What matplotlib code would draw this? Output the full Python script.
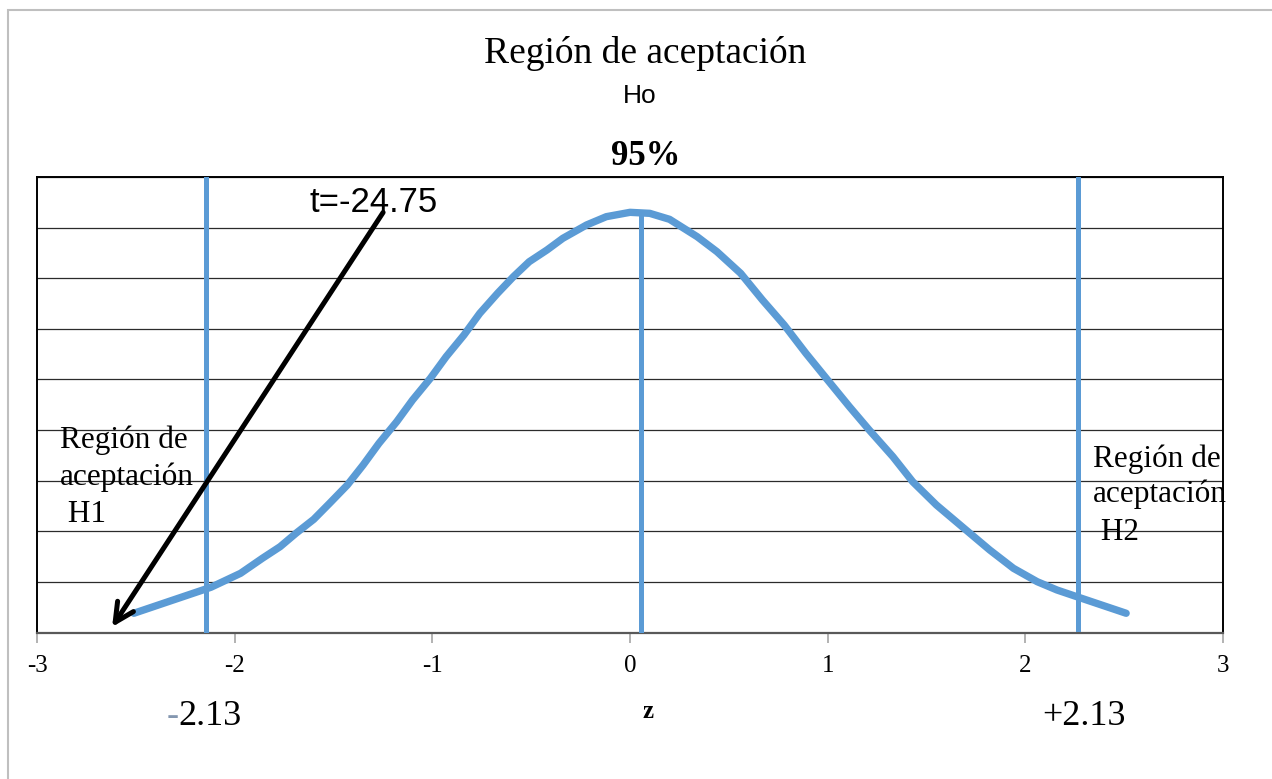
import matplotlib
matplotlib.use('Agg')
import matplotlib.pyplot as plt
from matplotlib.patches import Rectangle

W, H = 1272, 779

# curve (z, height)
z_curve = [-2.51, -2.12, -2.06, -1.97, -1.86, -1.77, -1.69, -1.60, -1.52, -1.43,
           -1.35, -1.27, -1.18, -1.10, -1.01, -0.93, -0.84, -0.76, -0.67, -0.59,
           -0.51, -0.42, -0.34, -0.22, -0.12, 0.0,
           0.10, 0.20, 0.34, 0.44, 0.56, 0.67, 0.78, 0.89, 1.0, 1.11, 1.21, 1.33,
           1.43, 1.55, 1.69, 1.82, 1.94, 2.06, 2.16, 2.26, 2.51]
y_curve = [0.019, 0.0447, 0.0502, 0.0585, 0.0733, 0.0848, 0.098, 0.1118, 0.1276, 0.1457,
           0.1655, 0.1869, 0.2083, 0.2297, 0.2511, 0.2725, 0.2939, 0.3153, 0.3351, 0.3515,
           0.3663, 0.3779, 0.3894, 0.4026, 0.4108, 0.4151,
           0.4141, 0.4082, 0.391, 0.3762, 0.3548, 0.3285, 0.3038, 0.2758, 0.2494, 0.2231,
           0.2001, 0.1737, 0.149, 0.126, 0.1029, 0.0815, 0.0634, 0.0502, 0.042, 0.0354, 0.019]

# vertical lines: (z, bottom, top)
crit_lines = [(-2.144, 0.0, 0.45), (0.058, 0.0, 0.415), (2.266, 0.003, 0.45)]

x_ticks = [-3, -2, -1, 0, 1, 2, 3]
y_grid = [0.05, 0.10, 0.15, 0.20, 0.25, 0.30, 0.35, 0.40, 0.45]

# arrow from label to the t value
arrow_tail = (-1.249, 0.415)
arrow_head = (-2.62, 0.0055)

blue = '#5B9BD5'
serif = 'Liberation Serif'
sans = 'Liberation Sans'


def px(x, y):
    return x / W, 1 - y / H


fig = plt.figure(figsize=(W / 100, H / 100), dpi=100)
fig.patches.append(Rectangle((8 / W, -0.1), 1.2, 1 - 10 / H + 0.1, transform=fig.transFigure,
                             fill=False, edgecolor='#BFBFBF', lw=1.5))

ax = fig.add_axes([37 / W, 1 - 632.5 / H, (1223 - 37) / W, (632.5 - 177) / H])
ax.set_xlim(-3, 3)
ax.set_ylim(0, 0.45)

for g in y_grid:
    ax.axhline(g, color='#2b2b2b', lw=0.9, zorder=1)

ax.plot(z_curve, y_curve, color=blue, lw=5.3, solid_capstyle='round', solid_joinstyle='round', zorder=3)
for zc, y0, y1 in crit_lines:
    ax.plot([zc, zc], [y0, y1], color=blue, lw=3.6, zorder=3)

ax.annotate('', xy=arrow_head, xytext=arrow_tail,
            arrowprops=dict(arrowstyle='->', lw=3.6, color='black', mutation_scale=34,
                            shrinkA=0, shrinkB=0), zorder=4)

ax.set_xticks(x_ticks)
ax.set_xticklabels([str(t) for t in x_ticks], fontfamily=serif, fontsize=18)
ax.tick_params(axis='x', length=7, width=1.2, color='#A6A6A6', direction='out', pad=9)
ax.set_yticks([])
for s in ['left', 'right', 'top']:
    ax.spines[s].set_color('black')
    ax.spines[s].set_linewidth(1.4)
ax.spines['bottom'].set_color('#595959')
ax.spines['bottom'].set_linewidth(1.6)

fig.text(*px(645, 63), 'Región de aceptación', fontfamily=serif, fontsize=27, ha='center', va='baseline')
fig.text(*px(640, 103), 'Ho', fontfamily=sans, fontsize=19, ha='center', va='baseline')
fig.text(*px(646, 165), '95%', fontfamily=serif, fontsize=25, fontweight='bold', ha='center', va='baseline')
fig.text(*px(309, 212), 't=-24.75', fontfamily=sans, fontsize=25, ha='left', va='baseline')

for txt, x, y in [('Región de', 60, 448), ('aceptación', 60, 485), (' H1', 60, 522),
                  ('Región de', 1093, 467), ('aceptación', 1093, 502), (' H2', 1093, 540)]:
    fig.text(*px(x, y), txt, fontfamily=serif, fontsize=22.5, ha='left', va='baseline')

fig.text(*px(179, 725), '-', fontfamily=serif, fontsize=26, ha='right', va='baseline', color='#8497B0')
fig.text(*px(178, 725), '2.13', fontfamily=serif, fontsize=26, ha='left', va='baseline')
fig.text(*px(1084, 725), '+2.13', fontfamily=serif, fontsize=26, ha='center', va='baseline')
fig.text(*px(648, 718), 'z', fontfamily=serif, fontsize=18, fontweight='bold', ha='center', va='baseline')

fig.savefig('out.png', dpi=100)
